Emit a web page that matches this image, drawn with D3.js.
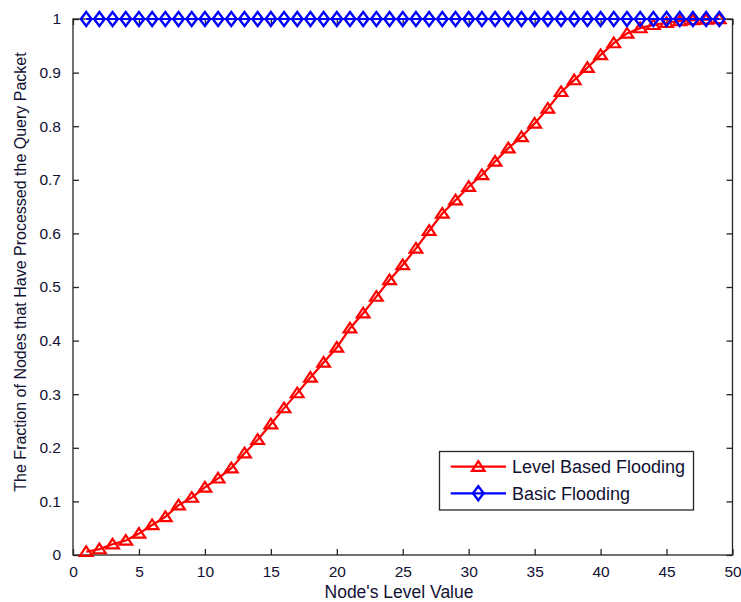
<!DOCTYPE html>
<html>
<head>
<meta charset="utf-8">
<script src="https://cdn.jsdelivr.net/npm/d3@7"></script>
<style>
  html, body { margin: 0; padding: 0; background: #fff; }
  svg { display: block; font-family: "Liberation Sans", Arial, sans-serif; }
</style>
</head>
<body>
<svg id="chart" width="741" height="602"></svg>
<script>
// ---- data ----
const levels = d3.range(1, 50); // 1..49
const levelBased = [
  0.006, 0.011, 0.020, 0.027, 0.040, 0.056, 0.071, 0.093, 0.107, 0.126,
  0.143, 0.162, 0.190, 0.215, 0.244, 0.274, 0.302, 0.331, 0.359, 0.387,
  0.423, 0.451, 0.482, 0.513, 0.541, 0.572, 0.605, 0.637, 0.662, 0.687,
  0.709, 0.734, 0.759, 0.780, 0.805, 0.833, 0.864, 0.886, 0.909, 0.933,
  0.955, 0.973, 0.983, 0.989, 0.993, 0.996, 0.998, 0.999, 1.000
];
const basic = [
  1,1,1,1,1,1,1,1,1,1, 1,1,1,1,1,1,1,1,1,1,
  1,1,1,1,1,1,1,1,1,1, 1,1,1,1,1,1,1,1,1,1,
  1,1,1,1,1,1,1,1,1
];
const xTicks = [0, 5, 10, 15, 20, 25, 30, 35, 40, 45, 50];
const yTicks = [0, 0.1, 0.2, 0.3, 0.4, 0.5, 0.6, 0.7, 0.8, 0.9, 1];
const seriesNames = ["Level Based Flooding", "Basic Flooding"];
const seriesColors = ["#ff0000", "#0000ff"];
const xLabel = "Node's Level Value";
const yLabel = "The Fraction of Nodes that Have Processed the Query Packet";

// ---- layout ----
const L = 73, R = 732.5, T = 19, B = 555;
const svg = d3.select("#chart");
const x = d3.scaleLinear().domain([0, 50]).range([L, R]);
const y = d3.scaleLinear().domain([0, 1]).range([B, T]);

const axisColor = "#262626";
const textColor = "#111133";
const tickFont = "15.5px";

// box
svg.append("rect").attr("x", L).attr("y", T).attr("width", R - L).attr("height", B - T)
  .attr("fill", "none").attr("stroke", axisColor).attr("stroke-width", 1.3);

// axes (ticks inward)
const gx = svg.append("g").attr("transform", `translate(0,${B})`)
  .call(d3.axisBottom(x).tickValues(xTicks).tickFormat(d3.format("d")).tickSize(-6).tickPadding(11));
const gxTop = svg.append("g").attr("transform", `translate(0,${T})`)
  .call(d3.axisTop(x).tickValues(xTicks).tickFormat("").tickSize(-6));
const gy = svg.append("g").attr("transform", `translate(${L},0)`)
  .call(d3.axisLeft(y).tickValues(yTicks).tickFormat(d => d3.format("")(+d.toFixed(1))).tickSize(-6).tickPadding(12));
const gyR = svg.append("g").attr("transform", `translate(${R},0)`)
  .call(d3.axisRight(y).tickValues(yTicks).tickFormat("").tickSize(-6));

[gx, gxTop, gy, gyR].forEach(g => {
  g.select(".domain").remove();
  g.selectAll(".tick line").attr("stroke", axisColor).attr("stroke-width", 1.3);
  g.selectAll(".tick text").attr("fill", textColor).style("font-size", tickFont)
    .style("font-family", "'Liberation Sans', Arial, sans-serif");
});

// axis labels
svg.append("text").attr("x", 399).attr("y", 598)
  .attr("text-anchor", "middle").style("font-size", "17.5px").attr("fill", textColor).text(xLabel);
svg.append("text").attr("transform", `translate(26,${272}) rotate(-90)`)
  .attr("text-anchor", "middle").style("font-size", "16px").attr("fill", textColor).text(yLabel);

// marker shapes
const triPath = (s) => `M0,${-s} L${s * 1.15},${s * 0.75} L${-s * 1.15},${s * 0.75} Z`;
const diaPath = (w, h) => `M0,${-h} L${w},0 L0,${h} L${-w},0 Z`;

const line = d3.line().x(d => x(d[0])).y(d => y(d[1]));
const redData = levels.map((l, i) => [l, levelBased[i]]);
const blueData = levels.map((l, i) => [l, basic[i]]);

// red series
svg.append("path").datum(redData).attr("d", line).attr("fill", "none")
  .attr("stroke", seriesColors[0]).attr("stroke-width", 2.2);
svg.append("g").selectAll("path").data(redData).join("path")
  .attr("transform", d => `translate(${x(d[0])},${y(d[1])})`)
  .attr("d", triPath(5.5)).attr("fill", "none").attr("stroke", seriesColors[0]).attr("stroke-width", 2.2);

// blue series
svg.append("path").datum(blueData).attr("d", line).attr("fill", "none")
  .attr("stroke", seriesColors[1]).attr("stroke-width", 2.2);
svg.append("g").selectAll("path").data(blueData).join("path")
  .attr("transform", d => `translate(${x(d[0])},${y(d[1])})`)
  .attr("d", diaPath(5.3, 7)).attr("fill", "none").attr("stroke", seriesColors[1]).attr("stroke-width", 2.4);

// legend
const lg = svg.append("g");
lg.append("rect").attr("x", 439.5).attr("y", 451.5).attr("width", 254).attr("height", 58.5)
  .attr("fill", "#fff").attr("stroke", axisColor).attr("stroke-width", 1.3);
const rows = [466.7, 493.3];
seriesNames.forEach((name, i) => {
  const yy = rows[i];
  lg.append("line").attr("x1", 450.7).attr("x2", 506).attr("y1", yy).attr("y2", yy)
    .attr("stroke", seriesColors[i]).attr("stroke-width", 2.2);
  lg.append("path").attr("transform", `translate(478.3,${yy})`)
    .attr("d", i === 0 ? triPath(5.5) : diaPath(5.3, 7))
    .attr("fill", "none").attr("stroke", seriesColors[i]).attr("stroke-width", i === 0 ? 2.2 : 2.4);
  lg.append("text").attr("x", 512).attr("y", yy).attr("dy", "0.36em")
    .style("font-size", "18px").attr("fill", textColor).text(name);
});
</script>
</body>
</html>
